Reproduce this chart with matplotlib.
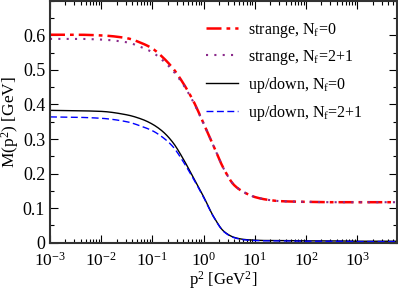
import numpy as np
import matplotlib
matplotlib.use("Agg")
import matplotlib.pyplot as plt
from matplotlib.ticker import FixedLocator, LogLocator, NullFormatter, MultipleLocator

plt.rcParams['font.family'] = ['Liberation Serif', 'DejaVu Serif']
plt.rcParams['mathtext.fontset'] = 'custom'
plt.rcParams['mathtext.rm'] = 'Liberation Serif'
plt.rcParams['mathtext.it'] = 'Liberation Serif:italic'
plt.rcParams['mathtext.default'] = 'regular'

# log10(p^2) sample points
logp2 = [-3, -2.5, -2, -1.5, -1.2, -1.0, -0.8, -0.6, -0.4, -0.2, 0.0, 0.2, 0.4, 0.6, 0.8,
         1.0, 1.25, 1.5, 2.0, 2.5, 3.0, 3.8]

strange_nf0 = [0.602, 0.602, 0.600, 0.592, 0.577, 0.562, 0.537, 0.505, 0.462, 0.410, 0.345,
               0.278, 0.212, 0.166, 0.145, 0.132, 0.124, 0.120, 0.118, 0.117, 0.117, 0.117]
strange_nf21 = [0.590, 0.590, 0.588, 0.580, 0.565, 0.551, 0.528, 0.498, 0.458, 0.407, 0.345,
                0.278, 0.212, 0.166, 0.145, 0.132, 0.124, 0.120, 0.118, 0.117, 0.117, 0.117]
ud_nf0 = [0.383, 0.382, 0.380, 0.370, 0.357, 0.343, 0.322, 0.290, 0.243, 0.188, 0.133,
          0.074, 0.032, 0.015, 0.009, 0.007, 0.006, 0.006, 0.005, 0.005, 0.004, 0.004]
ud_nf21 = [0.364, 0.363, 0.360, 0.350, 0.336, 0.324, 0.305, 0.278, 0.235, 0.185, 0.131,
           0.073, 0.031, 0.014, 0.008, 0.006, 0.005, 0.005, 0.004, 0.004, 0.003, 0.003]

labels = ['strange, N$_f$=0', 'strange, N$_f$=2+1', 'up/down, N$_f$=0', 'up/down, N$_f$=2+1']

xtick_vals = [1e-3, 1e-2, 1e-1, 1e0, 1e1, 1e2, 1e3]
xtick_labels = ['10$^{-3}$', '10$^{-2}$', '10$^{-1}$', '10$^{0}$', '10$^{1}$', '10$^{2}$', '10$^{3}$']
ytick_vals = [0, 0.1, 0.2, 0.3, 0.4, 0.5, 0.6]
ytick_labels = ['0', '0.1', '0.2', '0.3', '0.4', '0.5', '0.6']

# smooth the read points with a monotone (PCHIP) interpolation in log space
def smooth(xs, ys, n=400):
    xs = np.asarray(xs, float); ys = np.asarray(ys, float)
    xf = np.linspace(xs[0], xs[-1], n)
    h = np.diff(xs); d = np.diff(ys) / h
    m = np.zeros_like(ys)
    for k in range(1, len(xs) - 1):
        if d[k-1] * d[k] <= 0:
            m[k] = 0
        else:
            w1 = 2*h[k] + h[k-1]; w2 = h[k] + 2*h[k-1]
            m[k] = (w1 + w2) / (w1/d[k-1] + w2/d[k])
    m[0] = d[0]; m[-1] = d[-1]
    idx = np.clip(np.searchsorted(xs, xf) - 1, 0, len(xs) - 2)
    t = (xf - xs[idx]) / h[idx]
    h00 = 2*t**3 - 3*t**2 + 1; h10 = t**3 - 2*t**2 + t
    h01 = -2*t**3 + 3*t**2; h11 = t**3 - t**2
    yf = h00*ys[idx] + h10*h[idx]*m[idx] + h01*ys[idx+1] + h11*h[idx]*m[idx+1]
    return 10**xf, yf

fig = plt.figure(figsize=(3.98, 2.93), dpi=100)
ax = fig.add_axes([0.1256, 0.172, 0.872, 0.825])

x, y = smooth(logp2, strange_nf0)
ax.plot(x, y, color='red', lw=1.8, dashes=(6, 2, 1.5, 2), label=labels[0])
x, y = smooth(logp2, strange_nf21)
ax.plot(x, y, color='#8b2a8b', lw=1.5, dashes=(1, 3), label=labels[1])
x, y = smooth(logp2, ud_nf0)
ax.plot(x, y, color='black', lw=1.0, label=labels[2])
x, y = smooth(logp2, ud_nf21)
ax.plot(x, y, color='blue', lw=1.0, dashes=(5, 2.5), label=labels[3])

ax.set_xscale('log')
ax.set_xlim(1e-3, 6e3)
ax.set_ylim(0, 0.7)
ax.xaxis.set_major_locator(FixedLocator(xtick_vals))
ax.set_xticklabels(xtick_labels)
ax.xaxis.set_minor_locator(LogLocator(base=10, subs=np.arange(2, 10), numticks=20))
ax.xaxis.set_minor_formatter(NullFormatter())
ax.set_yticks(ytick_vals)
ax.set_yticklabels(ytick_labels)
ax.yaxis.set_minor_locator(MultipleLocator(0.05))

ax.tick_params(which='both', direction='in', top=True, right=True, colors='black')
ax.tick_params(axis='y', labelsize=13)
ax.tick_params(axis='x', labelsize=12.5, pad=6.5)
ax.tick_params(which='major', length=6, width=0.8)
ax.tick_params(which='minor', length=3, width=0.8)
for s in ax.spines.values():
    s.set_linewidth(1.5)
    s.set_color('#333333')

ax.set_xlabel('p$^2$ [GeV$^2$]', fontsize=12, labelpad=0)
ax.set_ylabel('M(p$^2$) [GeV]', fontsize=12.5, labelpad=1)

ax.legend(loc='upper left', frameon=False, fontsize=11.5, handlelength=2.0,
          handletextpad=0.6, labelspacing=0.5, borderpad=0, borderaxespad=0,
          bbox_to_anchor=(206/398, 1 - 21/293), bbox_transform=fig.transFigure)

fig.savefig('out.png', dpi=100)
